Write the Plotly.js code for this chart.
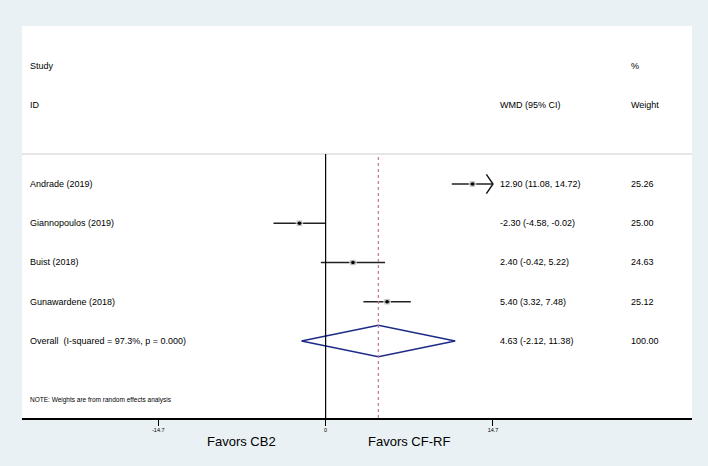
<!DOCTYPE html>
<html>
<head>
<meta charset="utf-8">
<script src="https://cdn.plot.ly/plotly-3.0.1.min.js"></script>
<style>html,body{margin:0;padding:0;background:#e9f1f4;}#chart{width:708px;height:466px;}</style>
</head>
<body>
<div id="chart"></div>
<script>
// ---- data ----
var studies = ['Andrade (2019)', 'Giannopoulos (2019)', 'Buist (2018)', 'Gunawardene (2018)'];
var wmd = [12.90, -2.30, 2.40, 5.40];
var ciLow = [11.08, -4.58, -0.42, 3.32];
var ciHigh = [14.72, -0.02, 5.22, 7.48];
var weights = [25.26, 25.00, 24.63, 25.12];
var overallLabel = 'Overall  (I-squared = 97.3%, p = 0.000)';
var overallEst = 4.63;
var overallLow = -2.12;
var overallHigh = 11.38;
var overallWeight = 100.00;
var tickVals = [-14.7, 0, 14.7];
var tickText = ['-14.7', '0', '14.7'];
var headerStudy = ['Study', 'ID'];
var headerEffect = 'WMD (95% CI)';
var headerWeight = ['%', 'Weight'];
var noteText = 'NOTE: Weights are from random effects analysis';
var favorsLeft = 'Favors CB2';
var favorsRight = 'Favors CF-RF';

// ---- layout helpers ----
var FONT = 'Liberation Sans, Arial, Helvetica, sans-serif';
var axisMin = -26.67, axisMax = 32.18;
var clipMax = tickVals[tickVals.length - 1];
var rows = studies.map(function (_, i) { return i + 1; });
var overallRow = studies.length + 1;
var yTop = -3.025, yBottom = 6.962;

function fmt(v) { return v.toFixed(2); }

// CI lines
var ciX = [], ciY = [];
var arrowX = [], arrowY = [];
var arrowDx = 0.58, arrowDy = 0.245;
for (var i = 0; i < studies.length; i++) {
  var hi = Math.min(ciHigh[i], clipMax);
  var lo = Math.max(ciLow[i], -axisMax);
  ciX.push(lo, hi, null);
  ciY.push(rows[i], rows[i], null);
  if (ciHigh[i] > clipMax) {
    arrowX.push(clipMax - arrowDx, clipMax, clipMax - arrowDx, null);
    arrowY.push(rows[i] - arrowDy, rows[i], rows[i] + arrowDy, null);
  }
}

var traces = [
  { type: 'scatter', mode: 'lines', x: ciX, y: ciY,
    line: { color: '#222', width: 1.4 }, hoverinfo: 'skip', showlegend: false },
  { type: 'scatter', mode: 'lines', x: arrowX, y: arrowY,
    line: { color: '#111', width: 1.4 }, hoverinfo: 'skip', showlegend: false },
  { type: 'scatter', mode: 'markers', x: wmd, y: rows,
    marker: { symbol: 'square', color: '#aaaaaa',
      size: weights.map(function (w) { return 6.5 * Math.sqrt(w / 25); }) },
    hoverinfo: 'skip', showlegend: false },
  { type: 'scatter', mode: 'markers', x: wmd, y: rows,
    marker: { symbol: 'circle', color: '#000', size: 3.5 },
    hoverinfo: 'skip', showlegend: false },
  { type: 'scatter', mode: 'lines',
    x: [overallLow, overallEst, overallHigh, overallEst, overallLow],
    y: [overallRow, overallRow - 0.4, overallRow, overallRow + 0.4, overallRow],
    line: { color: '#1c2a88', width: 1.5 }, hoverinfo: 'skip', showlegend: false }
];

var ann = [];
function txt(text, x, xref, y, yref, size, anchor) {
  ann.push({ text: text, x: x, xref: xref, y: y, yref: yref, showarrow: false,
    xanchor: anchor || 'left', yanchor: 'middle',
    font: { family: FONT, size: size, color: '#000' } });
}
var colStudy = 0.009, colEffect = 0.711, colWeight = 0.906;
// headers
txt(headerStudy[0], colStudy, 'paper', -2, 'y', 9);
txt(headerStudy[1], colStudy, 'paper', -1, 'y', 9);
txt(headerEffect, colEffect, 'paper', -1, 'y', 9);
txt(headerWeight[0], colWeight, 'paper', -2, 'y', 9);
txt(headerWeight[1], colWeight, 'paper', -1, 'y', 9);
// study rows
for (var j = 0; j < studies.length; j++) {
  txt(studies[j], colStudy, 'paper', rows[j], 'y', 9);
  txt(fmt(wmd[j]) + ' (' + fmt(ciLow[j]) + ', ' + fmt(ciHigh[j]) + ')', colEffect, 'paper', rows[j], 'y', 9);
  txt(fmt(weights[j]), colWeight, 'paper', rows[j], 'y', 9);
}
txt(overallLabel, colStudy, 'paper', overallRow, 'y', 9);
txt(fmt(overallEst) + ' (' + fmt(overallLow) + ', ' + fmt(overallHigh) + ')', colEffect, 'paper', overallRow, 'y', 9);
txt(fmt(overallWeight), colWeight, 'paper', overallRow, 'y', 9);
txt(noteText, colStudy, 'paper', 6.5, 'y', 6.5);
// favors labels
txt(favorsLeft, tickVals[0] / 2, 'x', -0.059, 'paper', 13, 'center');
txt(favorsRight, tickVals[2] / 2, 'x', -0.059, 'paper', 13, 'center');

var layout = {
  width: 708, height: 466,
  margin: { l: 22, r: 16, t: 26, b: 48, pad: 0 },
  paper_bgcolor: '#e9f1f4',
  plot_bgcolor: '#ffffff',
  showlegend: false,
  xaxis: {
    range: [axisMin, axisMax], showgrid: false, zeroline: false,
    showline: true, linecolor: '#000', linewidth: 1.5,
    ticks: 'outside', ticklen: 6, tickwidth: 1, tickcolor: '#000',
    tickvals: tickVals, ticktext: tickText,
    tickfont: { family: FONT, size: 5.5, color: '#000' }, fixedrange: true
  },
  yaxis: {
    range: [yBottom, yTop], showgrid: false, zeroline: false,
    showline: false, showticklabels: false, ticks: '', fixedrange: true
  },
  shapes: [
    { type: 'line', xref: 'paper', yref: 'y', x0: 0, x1: 1, y0: 0.236, y1: 0.236,
      line: { color: '#cccccc', width: 1 } },
    { type: 'line', xref: 'x', yref: 'y', x0: 0, x1: 0, y0: 0.236, y1: yBottom,
      line: { color: '#000', width: 1.2 } },
    { type: 'line', xref: 'x', yref: 'y', x0: overallEst, x1: overallEst, y0: 0.31, y1: yBottom,
      line: { color: '#c47883', width: 1.2, dash: '3px,3px' } }
  ],
  annotations: ann
};

Plotly.newPlot('chart', traces, layout, { staticPlot: true, displayModeBar: false });
</script>
</body>
</html>
